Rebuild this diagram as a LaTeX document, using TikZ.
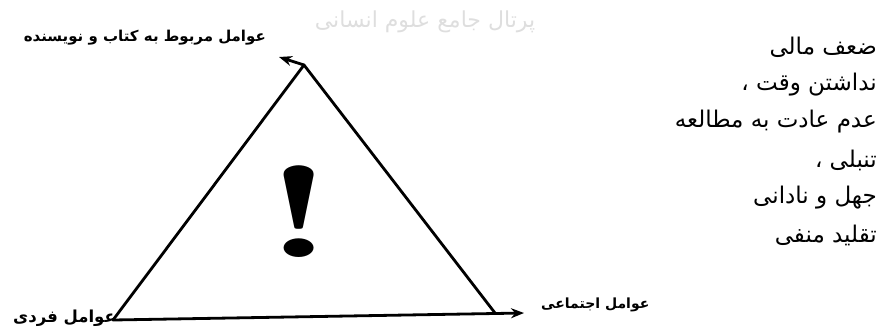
\documentclass[tikz,border=0pt]{standalone}
\usepackage{fontspec}
\usetikzlibrary{arrows.meta}
\newfontfamily\arabicfont[Script=Arabic]{DejaVu Sans}
\TeXXeTstate=1
\begin{document}
\begin{tikzpicture}[x=1pt,y=-1pt,
  edge/.style={line width=2.8pt,line cap=round,line join=round},
  tip/.style={-{Stealth[length=13pt,width=10pt]}},
  listitem/.style={anchor=east,inner sep=0pt,font=\arabicfont\fontsize{23}{23}\selectfont},
  hand/.style={inner sep=0pt,font=\arabicfont\bfseries\fontsize{15}{15}\selectfont}]
\useasboundingbox (0,0) rectangle (890,335);
% watermark
\node[inner sep=0pt,text=black!13,font=\arabicfont\fontsize{22}{22}\selectfont] (wm) at (425,22) {\beginR پرتال جامع علوم انسانی\endR};
% triangle vertices
\coordinate (apex) at (304,65);
\coordinate (lv) at (113,320);
\coordinate (rv) at (495,313);
\coordinate (rend) at (524,313);
\coordinate (atip) at (279,57);
\draw[edge] (lv) -- (apex) -- (rv);
\draw[edge,tip] (lv) -- (rend);
\draw[edge,tip] (apex) -- (atip);
% exclamation
\node[inner sep=0pt,font=\fontsize{130}{130}\bfseries\selectfont] (ex) at (299,212) {\scalebox{1.6}[1]{!}};
% labels
\node[hand,anchor=east] (top) at (266,38) {\beginR عوامل مربوط به کتاب و نویسنده\endR};
\node[hand,anchor=east,font=\arabicfont\bfseries\fontsize{16.5}{16.5}\selectfont] (left) at (116,318) {\beginR عوامل فردی\endR};
\node[hand,anchor=west,font=\arabicfont\bfseries\fontsize{14}{14}\selectfont] (right) at (541,305) {\beginR عوامل اجتماعی\endR};
% list
\node[listitem] (l1) at (877,47) {\beginR ضعف مالی\endR};
\node[listitem] (l2) at (877,85) {\beginR نداشتن وقت ،\endR};
\node[listitem] (l3) at (877,122) {\beginR عدم عادت به مطالعه\endR};
\node[listitem] (l4) at (877,160) {\beginR تنبلی ،\endR};
\node[listitem] (l5) at (877,198) {\beginR جهل و نادانی\endR};
\node[listitem] (l6) at (877,235) {\beginR تقلید منفی\endR};
\end{tikzpicture}
\end{document}
